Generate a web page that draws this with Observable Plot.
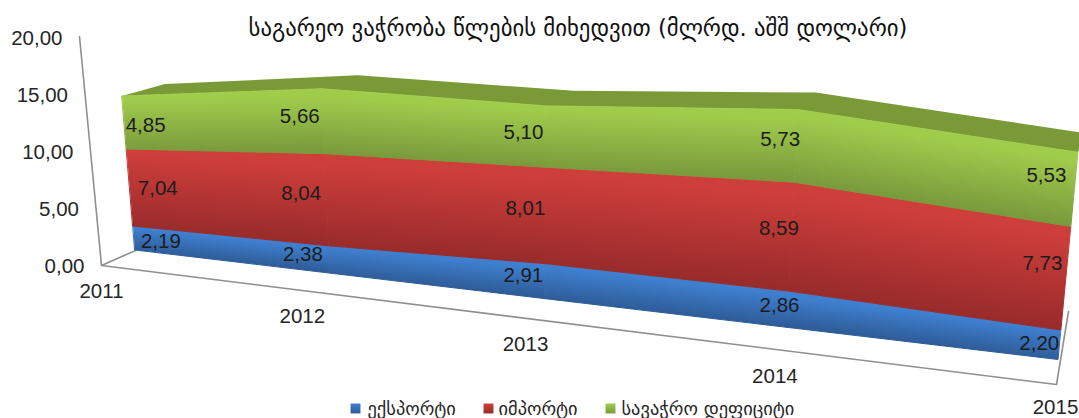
<!DOCTYPE html>
<html><head><meta charset="utf-8">
<script src="https://cdn.jsdelivr.net/npm/d3@7"></script>
<script src="https://cdn.jsdelivr.net/npm/@observablehq/plot@0.6"></script>
<style>html,body{margin:0;padding:0;background:#fff;overflow:hidden}</style>
</head><body><div id="chart"></div>
<script>
// ---- data ----
const years = [2011, 2012, 2013, 2014, 2015];
const exportsBn = [2.19, 2.38, 2.91, 2.86, 2.20];
const importsBn = [7.04, 8.04, 8.01, 8.59, 7.73];
const deficitBn = [4.85, 5.66, 5.10, 5.73, 5.53];
const yTicks = [0, 5, 10, 15, 20];
const titleText = "საგარეო ვაჭრობა წლების მიხედვით (მლრდ. აშშ დოლარი)";
const seriesNames = ["ექსპორტი", "იმპორტი", "სავაჭრო დეფიციტი"];

// ---- appearance ----
const seriesColors = [["#3F7FCF", "#2E5C98"], ["#CE3E3B", "#982B2B"], ["#A0CC4C", "#7A9A3C"]];
const roofColor = "#7A9A38", wallColor = "#8f8f8f", inkColor = "#262626";
const legendX = [355, 488, 610], legendTextX = [367, 498, 621];
const labelShift = [0.12, -0.1, -0.09, -0.08, -0.11];
// fine placement of each value label (pixels), per series then per year
const labelNudgeX = [[4, -6, -2, 12, 11], [5, -5, 0, 8, 8], [-2, -3, -2, 5, 4]];
const labelNudgeY = [[0, -3, -4, -2, 2], [-2, -5, -5, -7, -12], [0, -4, -3, -5, -12]];
const font = "Liberation Sans, Arial, sans-serif", georgian = "DejaVu Sans, sans-serif";

// ---- perspective calibration: the front plane of the 3-D chart ----
const sx = d3.scaleLinear([2011, 2015], [130, 1070]);
const sy = d3.scaleLinear([0, 20], [265, 37]);
const depthRatio = 1.25;
const weight = (year) => { const u = (year - 2011) / 4; return (1 - u) * depthRatio / ((1 - u) * depthRatio + u); };
const mix = (a, b, w) => w * a + (1 - w) * b;
function pixel(year, v, back = false) {
  const w = weight(year);
  let px = mix(135 - 0.923 * v, 1058 + 1.29 * v, w);
  let py = mix(250 - 10.94 * v, 359.5 - 13.4 * v, w);
  if (back) { const t = (px - 122) / 956; px += 43 - 35 * t; py += -12 - 7 * t; }
  return [px, py];
}
const toData = ([px, py]) => ({x: sx.invert(px), y: sy.invert(py)});
const project = (year, v, back) => toData(pixel(year, v, back));
const floorFront = (year, dy = 0) => toData([mix(101, 1055, weight(year)), mix(265, 385, weight(year)) + dy]);
const fmt = (v) => v.toFixed(2).replace(".", ",");

// ---- stacking ----
const layers = [exportsBn, importsBn, deficitBn];
const bottoms = layers.map((_, s) => years.map((_, i) => d3.sum(layers.slice(0, s), (l) => l[i])));
const bandRows = layers.map((values, s) => years.map((year, i) => {
  const a = project(year, bottoms[s][i]), b = project(year, bottoms[s][i] + values[i]);
  return {x1: a.x, y1: a.y, x2: b.x, y2: b.y};
}));
const roofRows = years.map((year, i) => {
  const top = bottoms[2][i] + deficitBn[i], a = project(year, top), b = project(year, top, true);
  return {x1: a.x, y1: a.y, x2: b.x, y2: b.y};
});
const valueLabels = layers.flatMap((values, s) => years.map((year, i) => {
  const [px, py] = pixel(year + labelShift[i], bottoms[s][i] + values[i] / 2);
  return {...toData([px + labelNudgeX[s][i], py + labelNudgeY[s][i]]), label: fmt(values[i])};
}));
const tickRows = yTicks.map((v) => {
  const t = v / 20;
  return {x: sx.invert(101 - 22 * t), y: v, label: fmt(v)};
});
const yearRows = years.map((year) => ({...floorFront(year, year === 2015 ? 22 : 26), label: String(year)}));
const wallLine = [toData([79, 36]), toData([101, 265])];
const floorLine = [toData([135, 250]), toData([101, 265]), toData([1056, 384]), toData([1068, 311])];

// ---- marks ----
const bandMarks = [];
layers.forEach((_, s) => years.slice(0, -1).forEach((_, i) => {
  const fill = `url(#band-${s}-${i})`;
  bandMarks.push(Plot.area(bandRows[s].slice(i, i + 2), {x1: "x1", y1: "y1", x2: "x2", y2: "y2", fill, stroke: fill, strokeWidth: 1}));
}));

const chart = Plot.plot({
  width: 1079, height: 418,
  marginTop: 0, marginRight: 0, marginBottom: 0, marginLeft: 0,
  x: {domain: sx.domain(), range: sx.range(), axis: null},
  y: {domain: sy.domain(), range: sy.range(), axis: null},
  style: {background: "#fff", overflow: "hidden"},
  marks: [
    Plot.line(wallLine, {x: "x", y: "y", stroke: wallColor, strokeWidth: 1.6}),
    Plot.line(floorLine, {x: "x", y: "y", stroke: wallColor, strokeWidth: 1.6}),
    Plot.area(roofRows, {x1: "x1", y1: "y1", x2: "x2", y2: "y2", fill: roofColor}),
    ...bandMarks,
    Plot.text(valueLabels, {x: "x", y: "y", text: "label", fontSize: 20.5, fontFamily: font, fill: "#1c1c1c"}),
    Plot.text(tickRows, {x: "x", y: "y", text: "label", textAnchor: "end", dx: -17, dy: 1, fontSize: 20.5, fontFamily: font, fill: inkColor}),
    Plot.text(yearRows, {x: "x", y: "y", text: "label", fontSize: 20.5, fontFamily: font, fill: inkColor}),
    Plot.text([titleText], {frameAnchor: "top-left", dx: 248, dy: 19, text: (d) => d, textAnchor: "start", lineAnchor: "top", fontSize: 22.75, fontFamily: georgian, fill: "#111"}),
    ...seriesNames.flatMap((name, s) => [
      Plot.dot([name], {frameAnchor: "top-left", dx: legendX[s], dy: 408, symbol: "square", r: 5.6, fill: `url(#swatch-${s})`}),
      Plot.text([name], {frameAnchor: "top-left", dx: legendTextX[s], dy: 408.5, text: (d) => d, textAnchor: "start", lineAnchor: "middle", fontSize: 18.4, fontFamily: georgian, fill: inkColor})
    ])
  ]
});

// ---- gradients that shade each band from its top edge to its bottom edge ----
const defs = d3.select(chart).insert("defs", ":first-child");
layers.forEach((values, s) => {
  years.slice(0, -1).forEach((year, i) => {
    const next = years[i + 1], b0 = bottoms[s][i], b1 = bottoms[s][i + 1];
    const t0 = b0 + values[i], t1 = b1 + values[i + 1];
    const [ax, ay] = pixel(year, t0), [bx, by] = pixel(next, t1);
    const [cx, cy] = pixel(year, b0), [ex, ey] = pixel(next, b1);
    const slope = ((by - ay) / (bx - ax) + (ey - cy) / (ex - cx)) / 2;
    const mx = (ax + bx) / 2, my = (ay + by) / 2, H = (cy + ey) / 2 - my;
    const len = H / (1 + slope * slope);
    const g = defs.append("linearGradient").attr("id", `band-${s}-${i}`).attr("gradientUnits", "userSpaceOnUse")
      .attr("x1", mx).attr("y1", my).attr("x2", mx - slope * len).attr("y2", my + len);
    g.append("stop").attr("offset", 0.1).attr("stop-color", seriesColors[s][0]);
    g.append("stop").attr("offset", 1).attr("stop-color", seriesColors[s][1]);
  });
  const w = defs.append("linearGradient").attr("id", `swatch-${s}`).attr("x1", 0).attr("y1", 0).attr("x2", 0).attr("y2", 1);
  w.append("stop").attr("offset", 0).attr("stop-color", seriesColors[s][0]);
  w.append("stop").attr("offset", 1).attr("stop-color", seriesColors[s][1]);
});
document.getElementById("chart").append(chart);
</script>
</body></html>
